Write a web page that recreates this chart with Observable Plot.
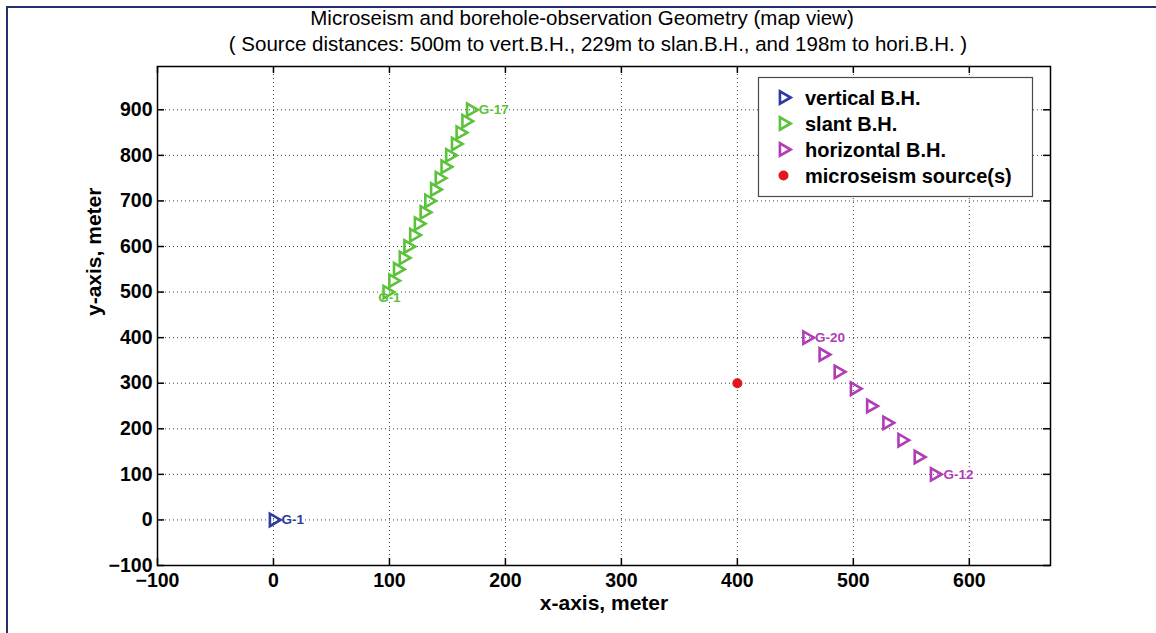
<!DOCTYPE html>
<html>
<head>
<meta charset="utf-8">
<script src="https://cdn.jsdelivr.net/npm/d3@7"></script>
<script src="https://cdn.jsdelivr.net/npm/@observablehq/plot@0.6"></script>
<style>
  body { margin: 0; background: #fff; font-family: "Liberation Sans", Arial, sans-serif; }
  #page { position: relative; width: 1156px; height: 633px; overflow: hidden; background: #fff; }
  #border { position: absolute; left: 6px; top: 6px; width: 1400px; height: 900px;
            border-top: 2px solid #27306e; border-left: 2px solid #27306e; pointer-events: none; }
  #title { position: relative; height: 58px; }
  .tl { position: absolute; transform: translateX(-50%); white-space: nowrap;
        font-size: 20.5px; line-height: 21px; color: #000; }
  #chart svg { display: block; }
  #legend { position: absolute; left: 758px; top: 77px; overflow: visible; }
</style>
</head>
<body>
<div id="page">
  <div id="border"></div>
  <div id="title">
    <div class="tl" id="t1" style="left:582px; top:7px;"></div>
    <div class="tl" id="t2" style="left:598px; top:33px;"></div>
  </div>
  <div id="chart"></div>
  <svg id="legend"></svg>
</div>
<script>
// Titles
const titleLine1 = "Microseism and borehole-observation Geometry (map view)";
const titleLine2 = "( Source distances: 500m to vert.B.H., 229m to slan.B.H., and 198m to hori.B.H. )";

// Axis ticks and labels
const xTicks = [-100, 0, 100, 200, 300, 400, 500, 600];
const yTicks = [-100, 0, 100, 200, 300, 400, 500, 600, 700, 800, 900];
const xDomain = [-100, 670];
const yDomain = [-100, 995];
const xLabel = "x-axis, meter";
const yLabel = "y-axis, meter";

// Vertical borehole receiver (map view)
const vertX = [0];
const vertY = [0];
const vertNames = ["G-1"];

// Slant borehole receivers G-1 .. G-17
const slantX = [98, 103, 107, 112, 116, 121, 125, 130, 134, 139, 143, 148, 152, 157, 161, 166, 170];
const slantY = [500, 525, 550, 575, 600, 625, 650, 675, 700, 725, 750, 775, 800, 825, 850, 875, 900];
const slantNames = ["G-1", "G-17"];

// Horizontal borehole receivers G-12 .. G-20
const horiX = [570, 556, 542, 529, 515, 501, 487, 474, 460];
const horiY = [100, 138, 175, 213, 250, 288, 325, 363, 400];
const horiNames = ["G-12", "G-20"];

// Microseism source location
const srcX = [400];
const srcY = [300];

// Legend
const legendLabels = ["vertical B.H.", "slant B.H.", "horizontal B.H.", "microseism source(s)"];
const colors = {vert: "#2b3c9e", slant: "#5cc23a", hori: "#b03cb6", src: "#e3161f"};
const legendColors = [colors.vert, colors.slant, colors.hori, colors.src];
const legendShapes = ["triangle", "triangle", "triangle", "circle"];

document.getElementById("t1").textContent = titleLine1;
document.getElementById("t2").textContent = titleLine2;

const toPoints = (xs, ys) => xs.map((x, i) => ({x, y: ys[i]}));
const vert = toPoints(vertX, vertY);
const slant = toPoints(slantX, slantY);
const hori = toPoints(horiX, horiY);
const src = toPoints(srcX, srcY);

const W = 1156, H = 575;
const M = {top: 8, right: 106, bottom: 68, left: 157};
const innerW = W - M.left - M.right;
const innerH = H - M.top - M.bottom;
const tickLen = 7;
const font = `"Liberation Sans", Arial, sans-serif`;

const markerR = 4.6, markerStroke = 2.6;
const markerStyle = {symbol: "triangle", rotate: 90, r: markerR, fill: "none", strokeWidth: markerStroke};
const tagStyle = {fontSize: 13.5, fontWeight: "bold", textAnchor: "start", text: "t",
                  stroke: "#fff", strokeWidth: 3, paintOrder: "stroke"};
const tickStyle = {stroke: "#000", strokeWidth: 1.5};

const chart = Plot.plot({
  width: W, height: H,
  marginTop: M.top, marginRight: M.right, marginBottom: M.bottom, marginLeft: M.left,
  x: {domain: xDomain},
  y: {domain: yDomain},
  style: {fontFamily: font, background: "transparent", overflow: "visible", color: "#000"},
  marks: [
    Plot.gridX(xTicks, {stroke: "#222", strokeOpacity: 0.85, strokeDasharray: "1,3", strokeWidth: 1}),
    Plot.gridY(yTicks, {stroke: "#222", strokeOpacity: 0.85, strokeDasharray: "1,3", strokeWidth: 1}),
    Plot.frame({stroke: "#000", strokeWidth: 1.5}),
    // inward tick marks on all four sides
    Plot.ruleX(xTicks, {...tickStyle, insetTop: innerH - tickLen}),
    Plot.ruleX(xTicks, {...tickStyle, insetBottom: innerH - tickLen}),
    Plot.ruleY(yTicks, {...tickStyle, insetRight: innerW - tickLen}),
    Plot.ruleY(yTicks, {...tickStyle, insetLeft: innerW - tickLen}),
    Plot.axisX(xTicks, {anchor: "bottom", tickSize: 0, tickPadding: 8, fontSize: 19.5, fontWeight: "bold", label: null, fill: "#000"}),
    Plot.axisY(yTicks, {anchor: "left", tickSize: 0, tickPadding: 5, fontSize: 19.5, fontWeight: "bold", label: null, fill: "#000"}),
    Plot.text([xLabel], {text: d => d, frameAnchor: "bottom", dy: 44, fontSize: 21, fontWeight: "bold", fill: "#000"}),
    Plot.text([yLabel], {text: d => d, frameAnchor: "left", rotate: -90, dx: -63, fontSize: 21, fontWeight: "bold", fill: "#000"}),
    // receiver tags (drawn beneath the markers)
    Plot.text([{...vert[0], t: vertNames[0]}], {x: "x", y: "y", fill: colors.vert, dx: 8, ...tagStyle}),
    Plot.text([{...slant[0], t: slantNames[0]}], {x: "x", y: "y", fill: colors.slant, dx: -9, dy: 6, ...tagStyle}),
    Plot.text([{...slant[slant.length - 1], t: slantNames[1]}], {x: "x", y: "y", fill: colors.slant, dx: 8, ...tagStyle}),
    Plot.text([{...hori[0], t: horiNames[0]}], {x: "x", y: "y", fill: colors.hori, dx: 9, ...tagStyle}),
    Plot.text([{...hori[hori.length - 1], t: horiNames[1]}], {x: "x", y: "y", fill: colors.hori, dx: 8, ...tagStyle}),
    // receivers
    Plot.dot(vert, {x: "x", y: "y", stroke: colors.vert, ...markerStyle}),
    Plot.dot(slant, {x: "x", y: "y", stroke: colors.slant, ...markerStyle}),
    Plot.dot(hori, {x: "x", y: "y", stroke: colors.hori, ...markerStyle}),
    // source
    Plot.dot(src, {x: "x", y: "y", r: 5, fill: colors.src, stroke: "none"})
  ]
});
document.getElementById("chart").appendChild(chart);

// Legend box inside the axes (upper right)
const lgW = 274, lgH = 119;
const lg = d3.select("#legend").attr("width", lgW + 2).attr("height", lgH + 2);
lg.append("rect")
  .attr("x", 0.5).attr("y", 0.5).attr("width", lgW).attr("height", lgH)
  .attr("fill", "#fff").attr("stroke", "#4a4a4a").attr("stroke-width", 1.2);
legendLabels.forEach((label, i) => {
  const cy = 20.5 + i * 26;
  const g = lg.append("g").attr("transform", `translate(25.5,${cy})`);
  if (legendShapes[i] === "triangle") {
    g.append("path")
      .attr("d", d3.symbol(d3.symbolTriangle, Math.PI * markerR * markerR)())
      .attr("transform", "rotate(90)")
      .attr("fill", "none").attr("stroke", legendColors[i]).attr("stroke-width", markerStroke);
  } else {
    g.append("circle").attr("r", 5).attr("fill", legendColors[i]);
  }
  lg.append("text")
    .attr("x", 47).attr("y", cy).attr("dy", "0.35em")
    .attr("font-family", font).attr("font-size", 20).attr("font-weight", "bold")
    .attr("fill", "#000")
    .text(label);
});
</script>
</body>
</html>
